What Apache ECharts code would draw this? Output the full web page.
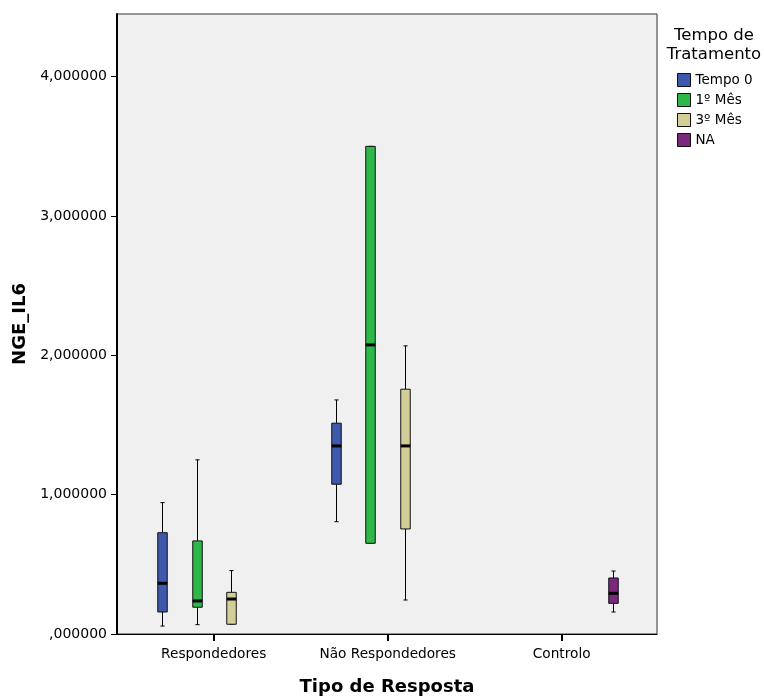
<!DOCTYPE html>
<html>
<head>
<meta charset="utf-8">
<script src="https://cdn.jsdelivr.net/npm/echarts@6/dist/echarts.min.js"></script>
<style>html,body{margin:0;padding:0;background:#fff}#c{width:764px;height:698px}</style>
</head>
<body>
<div id="c"></div>
<script>
// ---- data ----
const groups = ['Respondedores', 'Não Respondedores', 'Controlo'];
const seriesNames = ['Tempo 0', '1º Mês', '3º Mês', 'NA'];
const yTicks = [0, 1, 2, 3, 4];
// [min, Q1, median, Q3, max] per group (null = no box)
const tempo0 = [[0.057, 0.158, 0.364, 0.727, 0.943], [0.806, 1.075, 1.350, 1.513, 1.680], null];
const mes1   = [[0.067, 0.192, 0.237, 0.668, 1.250], [0.651, 0.651, 2.075, 3.500, 3.500], null];
const mes3   = [[0.070, 0.070, 0.251, 0.299, 0.455], [0.244, 0.754, 1.350, 1.757, 2.068], null];
const naVals = [null, null, [0.158, 0.220, 0.292, 0.402, 0.452]];
const seriesData = [tempo0, mes1, mes3, naVals];
const colors = ['#3E58AC', '#2EB848', '#D3CE97', '#7C287D'];

const FONT = 'DejaVu Sans';
const SLOT = 0.198;      // offset between cluster members (axis units)
const BOXW = 0.0546;     // box width (axis units)

function renderBox(params, api) {
  const si = params.seriesIndex;
  const x = api.value(0) + (si - 1.5) * SLOT;
  const pMin = api.coord([x, api.value(1)]);
  const pQ1 = api.coord([x, api.value(2)]);
  const pMed = api.coord([x, api.value(3)]);
  const pQ3 = api.coord([x, api.value(4)]);
  const pMax = api.coord([x, api.value(5)]);
  const w = api.size([BOXW, 0])[0];
  const cx = Math.round(pMin[0]) + 0.5;
  const cap = w * 0.22;
  const ls = {stroke: '#000', lineWidth: 1};
  return {
    type: 'group',
    children: [
      {type: 'line', shape: {x1: cx, y1: pMax[1], x2: cx, y2: pQ3[1]}, style: ls},
      {type: 'line', shape: {x1: cx, y1: pQ1[1], x2: cx, y2: pMin[1]}, style: ls},
      {type: 'line', shape: {x1: cx - cap, y1: pMax[1], x2: cx + cap, y2: pMax[1]}, style: ls},
      {type: 'line', shape: {x1: cx - cap, y1: pMin[1], x2: cx + cap, y2: pMin[1]}, style: ls},
      {type: 'rect', shape: {x: cx - w / 2, y: pQ3[1], width: w, height: pQ1[1] - pQ3[1]},
        style: {fill: colors[si], stroke: '#111', lineWidth: 1}},
      {type: 'line', shape: {x1: cx - w / 2, y1: pMed[1], x2: cx + w / 2, y2: pMed[1]},
        style: {stroke: '#000', lineWidth: 3}}
    ]
  };
}

const series = seriesNames.map((name, si) => ({
  name: name,
  type: 'custom',
  renderItem: renderBox,
  itemStyle: {color: colors[si], borderColor: '#111', borderWidth: 1},
  encode: {x: 0, y: [1, 2, 3, 4, 5]},
  data: seriesData[si].map((v, gi) => v ? [gi].concat(v) : null).filter(d => d)
}));

const chart = echarts.init(document.getElementById('c'), null, {renderer: 'canvas'});
chart.setOption({
  animation: false,
  backgroundColor: '#fff',
  textStyle: {fontFamily: FONT},
  grid: {left: 117, top: 14, width: 540, height: 620, show: true,
    backgroundColor: '#F0F0F0', borderColor: '#333', borderWidth: 1,
    containLabel: false, outerBoundsMode: 'none'},
  legend: {
    orient: 'vertical', left: 677, top: 73, padding: 0, itemWidth: 13, itemHeight: 13, itemGap: 6,
    icon: 'rect', data: seriesNames,
    itemStyle: {borderColor: '#111', borderWidth: 1},
    textStyle: {fontFamily: FONT, fontSize: 13.5, color: '#000'}
  },
  graphic: [{
    type: 'text', x: 714, y: 26,
    style: {text: 'Tempo de\nTratamento', fontFamily: FONT, fontSize: 16.5, fill: '#000',
      align: 'center', verticalAlign: 'top', lineHeight: 19}
  }],
  xAxis: {
    type: 'value', min: -0.556, max: 2.548,
    name: 'Tipo de Resposta', nameLocation: 'middle', nameGap: 44,
    nameTextStyle: {fontFamily: FONT, fontSize: 18, fontWeight: 'bold', color: '#000'},
    axisLine: {show: true, onZero: false, lineStyle: {color: '#000', width: 1}},
    axisTick: {show: true, length: 7, customValues: [0, 1, 2], lineStyle: {color: '#000', width: 2}},
    axisLabel: {customValues: [0, 1, 2], margin: 13, fontFamily: FONT, fontSize: 13.7, color: '#000',
      formatter: v => groups[Math.round(v)] || ''},
    splitLine: {show: false}
  },
  yAxis: {
    type: 'value', min: 0, max: 4.45,
    name: 'NGE_IL6', nameLocation: 'middle', nameGap: 87,
    nameTextStyle: {fontFamily: FONT, fontSize: 18, fontWeight: 'bold', color: '#000'},
    axisLine: {show: true, onZero: false, lineStyle: {color: '#000', width: 2}},
    axisTick: {show: true, length: 6, customValues: yTicks, lineStyle: {color: '#000'}},
    axisLabel: {customValues: yTicks, margin: 10, fontFamily: FONT, fontSize: 14, color: '#000',
      formatter: v => v === 0 ? ',000000' : v.toFixed(6).replace('.', ',')},
    splitLine: {show: false}
  },
  series: series
});
</script>
</body>
</html>
